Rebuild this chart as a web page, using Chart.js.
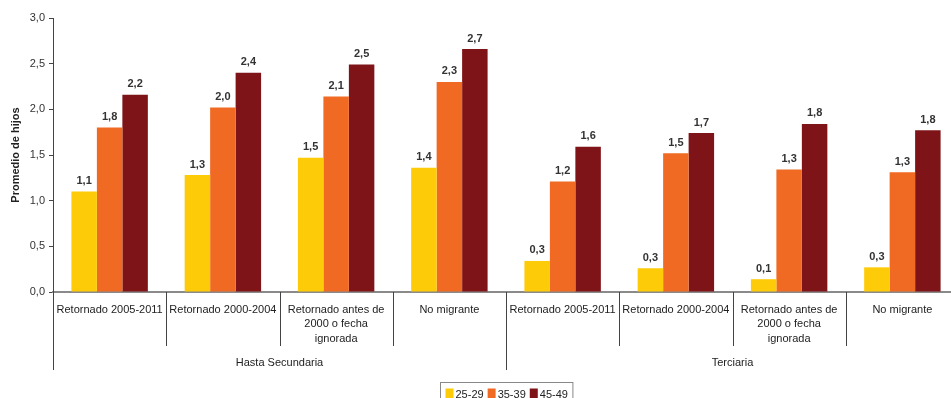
<!DOCTYPE html>
<html>
<head>
<meta charset="utf-8">
<script src="https://cdn.jsdelivr.net/npm/chart.js@4.4.1/dist/chart.umd.min.js"></script>
<style>
  html, body { margin: 0; padding: 0; background: #fff; overflow: hidden; }
  #wrap { width: 962px; height: 398px; }
</style>
</head>
<body>
<div id="wrap"><canvas id="hijosChart" width="962" height="398"></canvas></div>
<script>
var categories = [
    'Retornado 2005-2011', 'Retornado 2000-2004', ['Retornado antes de', '2000 o fecha', 'ignorada'], 'No migrante',
    'Retornado 2005-2011', 'Retornado 2000-2004', ['Retornado antes de', '2000 o fecha', 'ignorada'], 'No migrante'
];
var groups = ['Hasta Secundaria', 'Terciaria'];
var seriesNames = ['25-29', '35-39', '45-49'];
var edad25 = [1.10, 1.28, 1.47, 1.36, 0.34, 0.26, 0.14, 0.27];
var edad35 = [1.80, 2.02, 2.14, 2.30, 1.21, 1.52, 1.34, 1.31];
var edad45 = [2.16, 2.40, 2.49, 2.66, 1.59, 1.74, 1.84, 1.77];
var colors = ['#FDCB07', '#F06A23', '#7E1418'];

var narrow = "'Liberation Sans Narrow', 'Arial Narrow', 'Liberation Sans', Arial, sans-serif";
var sans = "'Liberation Sans', Arial, sans-serif";

function fmt(v) {
    return v.toFixed(1).replace('.', ',');
}

// valores encima de cada barra
var valueLabels = {
    id: 'valueLabels',
    afterDatasetsDraw: function (chart) {
        var ctx = chart.ctx;
        ctx.save();
        ctx.font = 'bold 11px ' + sans;
        ctx.fillStyle = '#333';
        ctx.textAlign = 'center';
        ctx.textBaseline = 'bottom';
        chart.data.datasets.forEach(function (ds, i) {
            chart.getDatasetMeta(i).data.forEach(function (bar, j) {
                ctx.fillText(fmt(ds.data[j]), bar.x, bar.y - 5);
            });
        });
        ctx.restore();
    }
};

// separadores de categorias, nombres de grupo y leyenda con marco
var axisExtras = {
    id: 'axisExtras',
    afterDraw: function (chart) {
        var ctx = chart.ctx;
        var x = chart.scales.x;
        var area = chart.chartArea;
        var half = (x.getPixelForValue(1) - x.getPixelForValue(0)) / 2;
        ctx.save();
        ctx.strokeStyle = '#444';
        ctx.lineWidth = 1;
        for (var i = 0; i <= categories.length; i++) {
            var bx = Math.round(x.getPixelForValue(Math.min(i, categories.length - 1)) + (i < categories.length ? -half : half)) + 0.5;
            var len = (i % 4 === 0) ? 78 : 54;
            ctx.beginPath();
            ctx.moveTo(bx, area.bottom);
            ctx.lineTo(bx, area.bottom + len);
            ctx.stroke();
        }
        ctx.font = '11px ' + narrow;
        ctx.fillStyle = '#222';
        ctx.textAlign = 'center';
        ctx.textBaseline = 'middle';
        groups.forEach(function (g, k) {
            var cx = (x.getPixelForValue(k * 4) + x.getPixelForValue(k * 4 + 3)) / 2;
            ctx.fillText(g, cx, area.bottom + 71);
        });

        // leyenda
        var boxW = 8, gap = 2, itemGap = 4, pad = 5;
        var widths = seriesNames.map(function (s) { return boxW + gap + ctx.measureText(s).width; });
        var total = widths.reduce(function (a, b) { return a + b; }, 0) + itemGap * (seriesNames.length - 1) + pad * 2;
        var lx = Math.round((area.left + area.right) / 2 - total / 2) + 0.5;
        var ly = 382.5;
        ctx.strokeStyle = '#888';
        ctx.strokeRect(lx, ly, total, 22);
        var cx = lx + pad;
        ctx.textAlign = 'left';
        seriesNames.forEach(function (s, k) {
            ctx.fillStyle = colors[k];
            ctx.fillRect(cx, ly + 6, boxW, 11);
            ctx.fillStyle = '#222';
            ctx.fillText(s, cx + boxW + gap, ly + 12);
            cx += widths[k] + itemGap;
        });
        ctx.restore();
    }
};

var ctx = document.getElementById('hijosChart').getContext('2d');
var hijosChart = new Chart(ctx, {
    type: 'bar',
    data: {
        labels: categories,
        datasets: [
            { label: seriesNames[0], data: edad25, backgroundColor: colors[0] },
            { label: seriesNames[1], data: edad35, backgroundColor: colors[1] },
            { label: seriesNames[2], data: edad45, backgroundColor: colors[2] }
        ]
    },
    options: {
        responsive: false,
        animation: false,
        datasets: {
            bar: { categoryPercentage: 0.675, barPercentage: 1.0 }
        },
        layout: { padding: { top: 18, right: 3, left: 0, bottom: 0 } },
        plugins: {
            legend: { display: false },
            tooltip: { enabled: false }
        },
        scales: {
            x: {
                grid: { display: false, drawTicks: false },
                border: { display: true, color: '#8a8a8a', width: 2 },
                ticks: {
                    color: '#222',
                    font: { family: narrow, size: 11, lineHeight: 1.36 },
                    padding: 10,
                    maxRotation: 0,
                    autoSkip: false
                },
                afterFit: function (scale) { scale.height = 106; }
            },
            y: {
                min: 0,
                max: 3,
                grid: { drawOnChartArea: false, drawTicks: true, tickLength: 4, color: '#444' },
                border: { display: true, color: '#444', width: 1 },
                ticks: {
                    stepSize: 0.5,
                    padding: 4,
                    color: '#333',
                    font: { family: sans, size: 11 },
                    callback: function (v) { return fmt(v); }
                },
                title: {
                    display: true,
                    text: 'Promedio de hijos',
                    color: '#222',
                    font: { family: sans, size: 11, weight: 'bold' },
                    padding: { top: 9, bottom: 0 }
                },
                afterFit: function (scale) { scale.width = 53; }
            }
        }
    },
    plugins: [valueLabels, axisExtras]
});
</script>
</body>
</html>
